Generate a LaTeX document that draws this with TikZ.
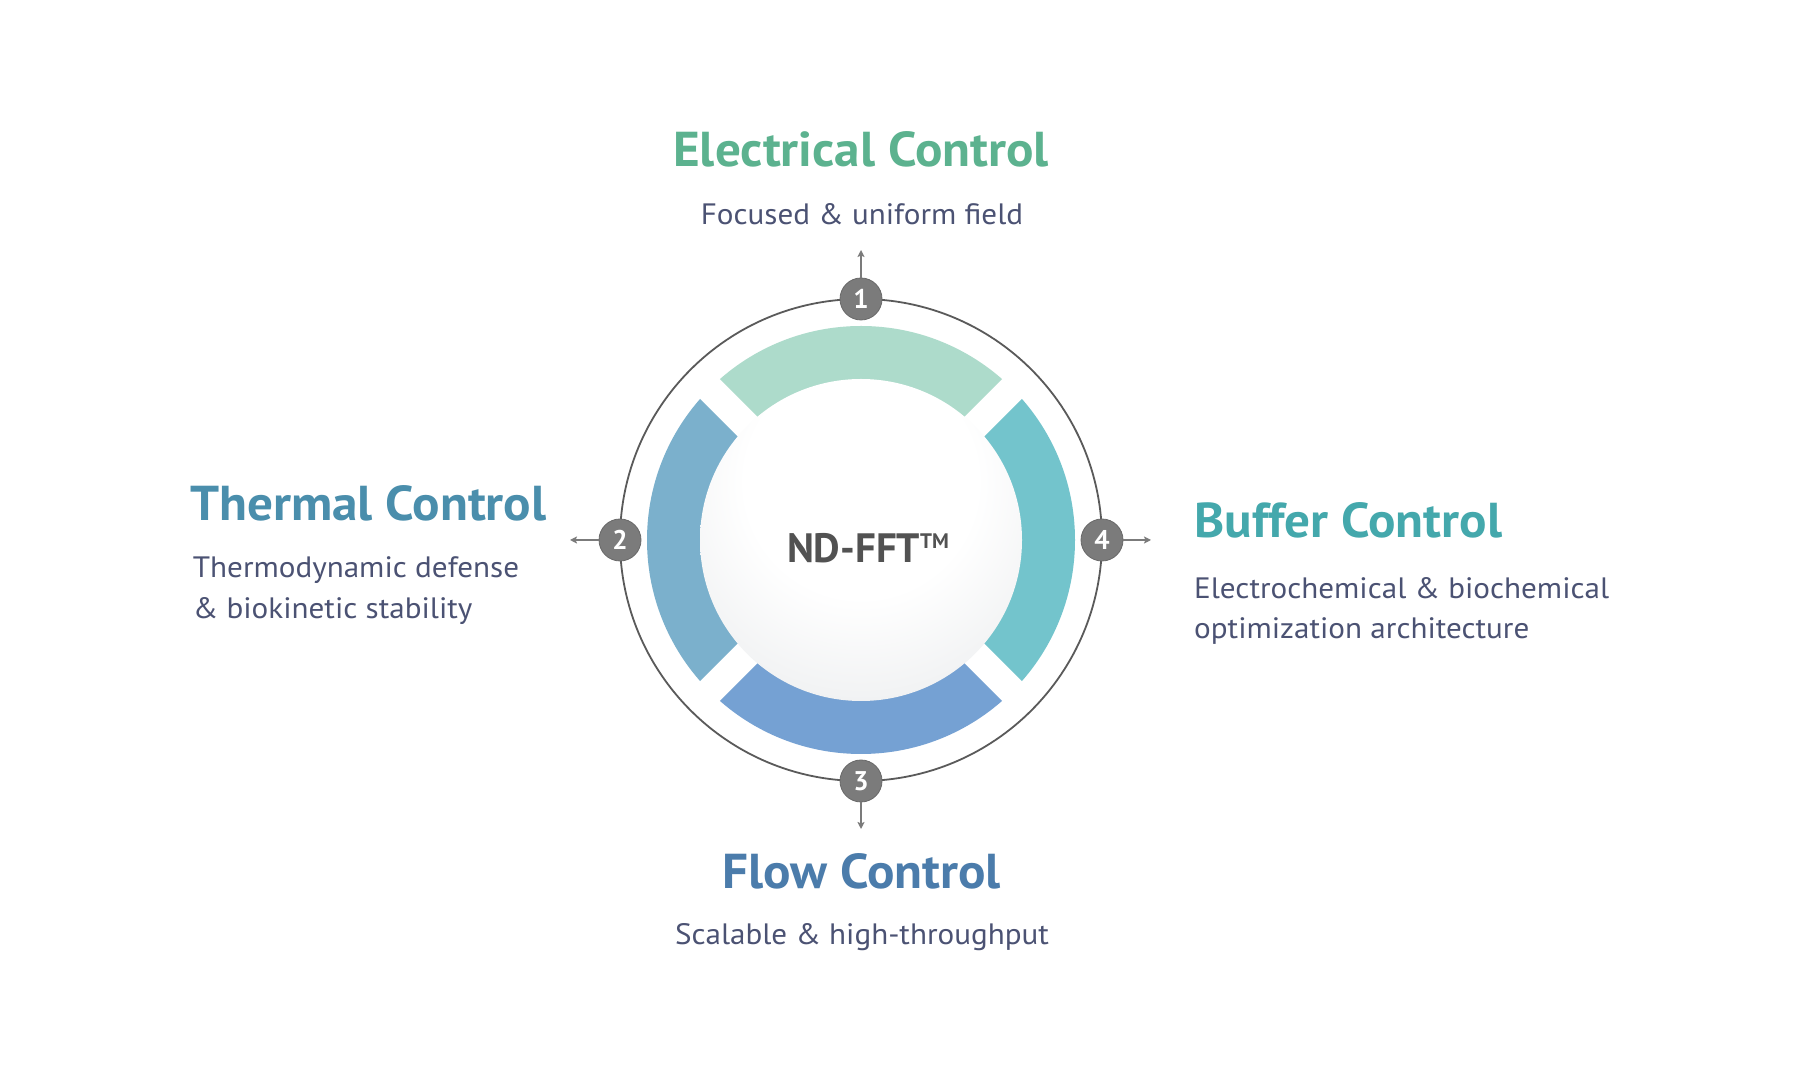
\documentclass[tikz,border=0pt]{standalone}
\usepackage{fontspec}
\setmainfont{PT Sans}
\newfontfamily\titlefont[FakeStretch=1.045]{PT Sans}
\newfontfamily\descfont[FakeStretch=1.055]{PT Sans}
\usetikzlibrary{arrows.meta}
\definecolor{segtop}{HTML}{ADDBCB}
\definecolor{segleft}{HTML}{7BB0CC}
\definecolor{segright}{HTML}{73C4CC}
\definecolor{segbot}{HTML}{75A1D3}
\definecolor{tElec}{HTML}{5CB28F}
\definecolor{tTherm}{HTML}{4A8EAC}
\definecolor{tBuf}{HTML}{44A8AC}
\definecolor{tFlow}{HTML}{4B7CAB}
\definecolor{descc}{HTML}{4B5273}
\definecolor{ringc}{HTML}{5A5A5A}
\definecolor{badgec}{HTML}{7B7B7B}
\definecolor{ndc}{HTML}{525252}
\definecolor{sphA}{HTML}{F2F3F4}
\definecolor{sphB}{HTML}{DDE1E4}
\definecolor{sphC}{HTML}{CDD3D7}
\definecolor{sphD}{HTML}{EAECEE}
\pgfdeclareradialshading{sphereshade}{\pgfpoint{0bp}{12bp}}{color(0bp)=(white); color(18bp)=(white); color(31bp)=(sphA); color(44bp)=(sphB); color(53bp)=(sphC); color(57bp)=(sphC); color(63bp)=(sphD); color(75bp)=(sphD)}
\tikzset{
  ringline/.style={draw=ringc, line width=1.8pt},
  badge/.style={circle, fill=badgec, draw=badgec!85!black, line width=0.8pt, minimum size=42pt, inner sep=0pt, text=white, font=\fontsize{27}{27}\selectfont\bfseries},
  arr/.style={draw=badgec, line width=1.6pt, -{Stealth[length=7pt,width=7pt,inset=1.5pt]}},
  title/.style={inner sep=0pt, font=\titlefont\fontsize{49}{58}\selectfont\bfseries},
  desc/.style={inner sep=0pt, text=descc, font=\descfont\fontsize{29.5}{36}\selectfont},
}
\begin{document}
\begin{tikzpicture}[x=1pt,y=1pt]
\useasboundingbox[fill=white] (0,0) rectangle (1800,1079);
\coordinate (C) at (861,539);
% segments
\foreach \ang/\col in {0/segtop, 90/segleft, 180/segbot, 270/segright}{
  \begin{scope}[shift={(C)}, rotate=\ang]
    \clip (0,19.8) -- (330,349.8) -- (-330,349.8) -- cycle;
    \fill[\col, even odd rule] (0,0) circle (214) (0,0) circle (150);
  \end{scope}
}
% sphere
\shade[shading=sphereshade] (C) circle (161);
\node[inner sep=0pt, text=ndc, font=\fontsize{41}{41}\selectfont\bfseries, anchor=base] (nd) at (868,516.3) {ND-FFT\raisebox{14pt}{\fontsize{21}{21}\selectfont TM}};
% ring
\draw[ringline] (C) circle (241);
% badges
\node[badge] (b1) at (861,780) {1};
\node[badge] (b2) at (620,539) {2};
\node[badge] (b3) at (861,298) {3};
\node[badge] (b4) at (1102,539) {4};
\coordinate (a1) at (861,829);
\coordinate (a2) at (570,539);
\coordinate (a3) at (861,250);
\coordinate (a4) at (1151,539);
\draw[arr] (b1) -- (a1);
\draw[arr] (b2) -- (a2);
\draw[arr] (b3) -- (a3);
\draw[arr] (b4) -- (a4);
% texts
\node[title, text=tElec, anchor=base] (t1) at (861,912.3) {Electrical Control};
\node[desc, anchor=base] (d1) at (862,854.7) {Focused \& uniform field};
\node[title, text=tTherm, anchor=base west] (t2) at (190,558) {Thermal Control};
\node[desc, anchor=base west] (d2a) at (192.7,501.3) {Thermodynamic defense};
\node[desc, anchor=base west] (d2b) at (192.7,460.7) {\& biokinetic stability};
\node[title, text=tBuf, anchor=base west] (t4) at (1194,541.3) {Buffer Control};
\node[desc, anchor=base west] (d4a) at (1194,480.7) {Electrochemical \& biochemical};
\node[desc, anchor=base west] (d4b) at (1194,440.7) {optimization architecture};
\node[title, text=tFlow, anchor=base] (t3) at (861.5,190.7) {Flow Control};
\node[desc, anchor=base] (d3) at (862,134.7) {Scalable \& high-throughput};
\end{tikzpicture}
\end{document}
